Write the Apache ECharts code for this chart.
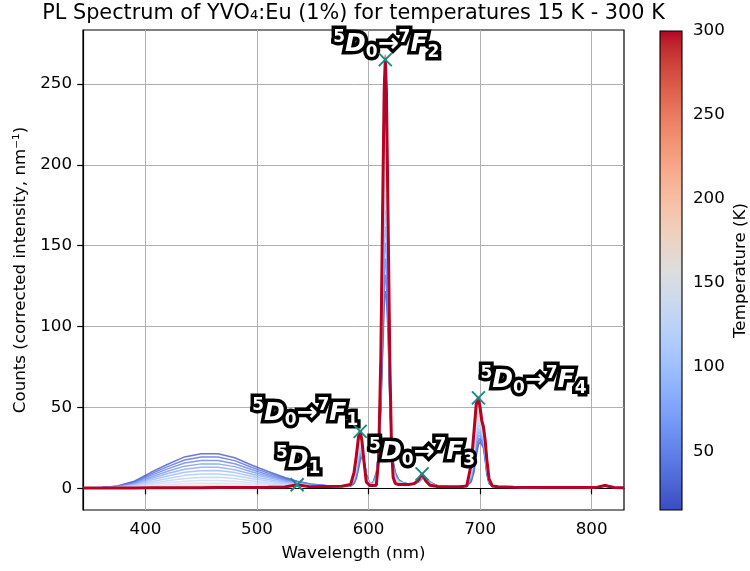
<!DOCTYPE html>
<html><head><meta charset="utf-8">
<script src="https://cdn.jsdelivr.net/npm/echarts@6/dist/echarts.min.js"></script>
<style>html,body{margin:0;padding:0;background:#fff}#c{width:750px;height:571px}</style>
</head><body><div id="c"></div>
<script>
// ---------------- data ----------------
const wavelengths = [344,360,375,390,405,420,435,450,465,480,495,510,525,536,548,562,576,
  584,587,589,591,592.5,594,596,598,601,604,
  607,609,611,612.5,614,615,616,617.5,619,620.5,622,624,627,631,636,
  641,645,648,651,655,662,
  672,682,688,692,694.5,696.5,698.5,700,701.5,703,704.5,706,708,711,716,
  730,760,790,805,812,820,829];

const temperatures = [15,30,45,60,75,90,105,120,135,150,165,180,195,210,225,240,255,270,285,300];

// one row per temperature, one value per wavelength
const counts = [
 [0.3,0.5,1.5,4.5,10,15,19.5,21.5,21.5,19,14.5,10.5,6.8,4.5,2.8,1.8,1.4, 1.5,3,6,12,17,20,17,9,3,3.5, 10,22,48,80,112,122,118,95,55,28,17,10,5.5,3.5,2.8, 3,4,6,7,4,1.5, 1,1.2,1.5,4,10,20,27,29,28,25,18,9,3,1.5,1, 0.8,0.6,0.6,0.8,1.5,0.6,0.5],
 [0.3,0.5,1.4,4.1,9.0,13.5,17.6,19.4,19.4,17.2,13.1,9.5,6.2,4.3,2.6,1.7,1.4, 1.6,3.5,7.0,13.4,18.3,20.7,16.9,8.7,2.9,3.4, 9.4,21.7,50.3,86.1,121.4,132,127,100,56.8,28,16.3,9.5,5.3,3.4,2.8, 3,4.1,6.2,6.9,3.9,1.5, 1,1.2,1.5,4.8,11.8,22.2,29.0,30.5,29.0,25.9,18.8,9.6,3.2,1.5,1, 0.8,0.6,0.6,0.8,1.5,0.6,0.5],
 [0.3,0.5,1.3,3.7,8.1,12.1,15.7,17.3,17.3,15.3,11.7,8.5,5.6,4.1,2.4,1.7,1.4, 1.6,4.0,8.0,14.8,19.6,21.4,16.9,8.3,2.8,3.3, 8.9,21.4,52.6,92.2,130.8,142,135.9,105.1,58.6,28,15.6,9.0,5.1,3.4,2.8, 3,4.2,6.4,6.7,3.7,1.5, 1,1.2,1.5,5.5,13.5,24.5,31.1,31.9,30.0,26.8,19.7,10.3,3.4,1.5,1, 0.8,0.6,0.6,0.8,1.5,0.6,0.5],
 [0.3,0.4,1.1,3.2,7.1,10.6,13.8,15.2,15.2,13.5,10.3,7.6,5.0,3.8,2.3,1.6,1.4, 1.7,4.5,8.9,16.2,20.8,22.1,16.8,8.0,2.7,3.1, 8.3,21.2,54.9,98.3,140.1,152,144.9,110.1,60.5,28,14.9,8.5,4.9,3.3,2.7, 3,4.3,6.6,6.6,3.6,1.4, 1,1.2,1.5,6.3,15.3,26.7,33.1,33.4,30.9,27.7,20.5,10.9,3.6,1.5,1, 0.8,0.6,0.6,0.8,1.6,0.6,0.5],
 [0.3,0.4,1.0,2.8,6.2,9.2,11.9,13.1,13.1,11.6,8.9,6.6,4.4,3.6,2.1,1.6,1.4, 1.8,5.0,9.9,17.6,22.1,22.8,16.7,7.6,2.7,3.0, 7.8,20.9,57.2,104.4,149.5,162,153.8,115.2,62.3,28,14.2,8.0,4.7,3.2,2.7, 3,4.4,6.8,6.4,3.4,1.4, 1,1.1,1.5,7.1,17.0,29.0,35.1,34.9,31.9,28.6,21.4,11.5,3.8,1.5,1, 0.8,0.6,0.6,0.8,1.6,0.6,0.5],
 [0.3,0.4,0.9,2.4,5.2,7.7,10.0,11.0,11.1,9.8,7.6,5.6,3.9,3.4,1.9,1.5,1.4, 1.9,5.5,10.9,19.0,23.4,23.5,16.7,7.3,2.6,2.9, 7.2,20.6,59.6,110.5,158.9,172,162.8,120.2,64.1,28,13.5,7.6,4.5,3.2,2.7, 3,4.5,7.1,6.3,3.3,1.4, 1,1.1,1.5,7.9,18.8,31.2,37.2,36.4,32.9,29.6,22.2,12.2,4.1,1.5,1, 0.8,0.6,0.6,0.8,1.6,0.6,0.5],
 [0.3,0.4,0.8,2.0,4.2,6.2,8.1,8.9,9.0,8.0,6.2,4.6,3.3,3.2,1.7,1.4,1.4, 1.9,5.9,11.9,20.4,24.7,24.2,16.6,6.9,2.5,2.8, 6.6,20.3,61.9,116.5,168.3,182,171.8,125.2,65.9,28,12.8,7.1,4.2,3.1,2.7, 3,4.6,7.3,6.2,3.2,1.4, 1,1.1,1.5,8.6,20.5,33.4,39.2,37.8,33.9,30.5,23.0,12.8,4.3,1.5,1, 0.8,0.6,0.6,0.8,1.6,0.6,0.5],
 [0.3,0.4,0.7,1.6,3.3,4.8,6.2,6.8,6.9,6.1,4.8,3.6,2.7,3.0,1.5,1.4,1.4, 2.0,6.4,12.9,21.8,26.0,24.9,16.5,6.6,2.4,2.7, 6.1,20.0,64.2,122.6,177.7,192,180.7,130.3,67.7,28,12.1,6.6,4.0,3.0,2.7, 3,4.7,7.5,6.0,3.0,1.4, 1,1.1,1.5,9.4,22.3,35.7,41.2,39.3,34.9,31.4,23.9,13.4,4.5,1.5,1, 0.8,0.6,0.6,0.8,1.6,0.6,0.5],
 [0.3,0.3,0.6,1.2,2.4,3.5,4.5,4.9,5.0,4.5,3.5,2.8,2.1,2.8,1.4,1.3,1.4, 2.1,6.9,13.8,23.2,27.2,25.6,16.4,6.2,2.3,2.5, 5.5,19.8,66.5,128.7,187.0,202,189.7,135.3,69.6,28,11.4,6.1,3.8,2.9,2.6, 3,4.8,7.7,5.9,2.9,1.3, 1,1.1,1.5,10.2,24.0,37.9,43.2,40.8,35.8,32.3,24.7,14.0,4.7,1.5,1, 0.8,0.6,0.6,0.8,1.7,0.6,0.5],
 [0.3,0.3,0.5,0.8,1.6,2.3,3.0,3.2,3.3,3.0,2.4,2.0,1.7,2.6,1.2,1.3,1.4, 2.1,7.4,14.8,24.6,28.5,26.3,16.4,5.9,2.2,2.4, 5.0,19.5,68.8,134.8,196.4,212,198.6,140.4,71.4,28,10.7,5.6,3.6,2.9,2.6, 3,4.9,7.9,5.7,2.7,1.3, 1,1.1,1.5,10.9,25.8,40.2,45.3,42.2,36.8,33.2,25.6,14.7,4.9,1.5,1, 0.8,0.6,0.6,0.8,1.7,0.6,0.5],
 [0.3,0.3,0.4,0.6,1.1,1.4,1.8,2.0,2.1,1.9,1.6,1.4,1.3,2.5,1.1,1.2,1.4, 2.2,7.9,15.8,26.0,29.8,27.0,16.3,5.5,2.2,2.3, 4.4,19.2,71.1,140.9,205.8,222,207.6,145.4,73.2,28,10.0,5.1,3.4,2.8,2.6, 3,5.1,8.1,5.6,2.6,1.3, 1,1.1,1.5,11.7,27.5,42.4,47.3,43.7,37.8,34.1,26.4,15.3,5.1,1.5,1, 0.8,0.6,0.6,0.8,1.7,0.6,0.5],
 [0.3,0.3,0.3,0.4,0.7,0.8,1.1,1.1,1.2,1.2,1.0,1.0,1.1,2.4,1.1,1.2,1.4, 2.3,8.3,16.6,27.2,30.9,27.6,16.2,5.2,2.1,2.2, 3.9,19.0,73.1,146.1,213.8,230.7,215.3,149.7,74.8,28,9.4,4.7,3.2,2.7,2.6, 3,5.1,8.3,5.5,2.5,1.3, 1,1.0,1.5,12.4,29.0,44.3,49.0,45.0,38.6,34.9,27.1,15.8,5.3,1.5,1, 0.8,0.6,0.6,0.8,1.7,0.6,0.5],
 [0.3,0.3,0.3,0.3,0.4,0.4,0.5,0.5,0.6,0.6,0.6,0.7,0.9,2.3,1.0,1.2,1.4, 2.3,8.7,17.5,28.4,32.0,28.2,16.2,4.9,2.0,2.1, 3.4,18.7,75.1,151.3,221.9,239.3,223.0,154.0,76.3,28,8.8,4.3,3.0,2.7,2.6, 3,5.2,8.5,5.4,2.4,1.3, 1,1.0,1.5,13.0,30.5,46.2,50.8,46.2,39.5,35.7,27.8,16.4,5.5,1.5,1, 0.8,0.6,0.6,0.8,1.8,0.6,0.5],
 [0.3,0.3,0.3,0.3,0.4,0.4,0.5,0.5,0.6,0.6,0.6,0.7,0.9,2.3,1.0,1.2,1.4, 2.4,9.2,18.3,29.6,33.1,28.8,16.1,4.6,1.9,2.0, 3.0,18.5,77.0,156.6,229.9,247.8,230.6,158.4,77.9,28,8.2,3.8,2.9,2.6,2.5, 3,5.3,8.6,5.2,2.2,1.2, 1,1.0,1.5,13.7,32.0,48.2,52.5,47.5,40.3,36.4,28.6,16.9,5.6,1.5,1, 0.8,0.6,0.6,0.8,2.0,0.6,0.5],
 [0.3,0.3,0.3,0.3,0.4,0.4,0.5,0.5,0.6,0.6,0.6,0.7,0.9,2.3,1.0,1.2,1.4, 2.4,9.5,19.0,30.6,34.0,29.3,16.1,4.4,1.9,1.9, 2.6,18.3,78.7,160.9,240,268,240,162.0,79.2,28,7.7,3.5,2.7,2.6,2.5, 3,5.4,8.8,5.1,2.1,1.2, 1,1.0,1.5,14.2,33.3,49.8,54.0,48.5,41.0,37.1,29.2,17.4,5.8,1.5,1, 0.8,0.6,0.6,0.8,2.2,0.6,0.5],
 [0.3,0.3,0.3,0.3,0.4,0.4,0.5,0.5,0.6,0.6,0.6,0.7,0.9,2.3,1.0,1.2,1.4, 2.5,9.8,19.6,31.4,34.8,29.7,16.0,4.2,1.8,1.8, 2.2,18.1,80.0,164.4,244,268,244,164.8,80.2,28,7.3,3.2,2.6,2.5,2.5, 3,5.5,8.9,5.1,2.1,1.2, 1,1.0,1.5,14.7,34.3,51.0,55.1,49.4,41.6,37.6,29.6,17.7,5.9,1.5,1, 0.8,0.6,0.6,0.8,2.2,0.6,0.5],
 [0.3,0.3,0.3,0.3,0.4,0.4,0.5,0.5,0.6,0.6,0.6,0.7,0.9,2.3,1.0,1.2,1.4, 2.5,10,20,32,35.3,30,16,4,1.8,1.8, 2,18,81,167,246,267,246,167,81,28,7,3,2.5,2.5,2.5, 3,5.5,9,5,2,1.2, 1,1,1.5,15,35,52,56,50,42,38,30,18,6,1.5,1, 0.8,0.6,0.6,0.8,2.1,0.6,0.5],
 [0.3,0.3,0.3,0.3,0.4,0.4,0.5,0.5,0.6,0.6,0.6,0.7,0.9,2.3,1.0,1.2,1.4, 2.5,10,20,32,35.3,30,16,4,1.8,1.8, 2,18,81,167,246,266,246,167,81,28,7,3,2.5,2.5,2.5, 3,5.5,9,5,2,1.2, 1,1,1.5,15,35,52,56,50,42,38,30,18,6,1.5,1, 0.8,0.6,0.6,0.8,2.0,0.6,0.5],
 [0.3,0.3,0.3,0.3,0.4,0.4,0.5,0.5,0.6,0.6,0.6,0.7,0.9,2.3,1.0,1.2,1.4, 2.5,10,20,32,35.3,30,16,4,1.8,1.8, 2,18,81,167,246,265.5,246,167,81,28,7,3,2.5,2.5,2.5, 3,5.5,9,5,2,1.2, 1,1,1.5,15,35,52,56,50,42,38,30,18,6,1.5,1, 0.8,0.6,0.6,0.8,1.9,0.6,0.5],
 [0.3,0.3,0.3,0.3,0.4,0.4,0.5,0.5,0.6,0.6,0.6,0.7,0.9,2.3,1.0,1.2,1.4, 2.5,10,20,32,35.3,30,16,4,1.8,1.8, 2,18,81,167,246,265,246,167,81,28,7,3,2.5,2.5,2.5, 3,5.5,9,5,2,1.2, 1,1,1.5,15,35,52,56,50,42,38,30,18,6,1.5,1, 0.8,0.6,0.6,0.8,1.8,0.6,0.5]
];

const peakWavelengths = [536, 592.5, 615, 648, 698.5];
const peakLabels = ['{sup|5}{big|D}{sub|1}',
                    '{sup|5}{big|D}{sub|0}{arr|→}{sup|7}{big|F}{sub|1}',
                    '{sup|5}{big|D}{sub|0}{arr|→}{sup|7}{big|F}{sub|2}',
                    '{sup|5}{big|D}{sub|0}{arr|→}{sup|7}{big|F}{sub|3}',
                    '{sup|5}{big|D}{sub|0}{arr|→}{sup|7}{big|F}{sub|4}'];
const xTicks = [400, 500, 600, 700, 800];
const yTicks = [0, 50, 100, 150, 200, 250];
const tempTicks = [50, 100, 150, 200, 250, 300];

// ---------------- styling ----------------
const labelOffsets = [[1,-24],[-55,-18],[1,-15],[0,-21],[55,-17]];
const coolwarm = [[59,76,192],[68,90,204],[77,104,215],[87,117,225],[98,130,234],[108,142,241],[119,154,247],[130,165,251],[141,176,254],[152,185,255],[163,194,255],[174,201,253],[184,208,249],[194,213,244],[204,217,238],[213,219,230],[221,221,221],[229,216,209],[236,211,197],[241,204,185],[245,196,173],[247,187,160],[247,177,148],[247,166,135],[244,154,123],[241,141,111],[236,127,99],[229,112,88],[222,96,77],[213,80,66],[203,62,56],[192,40,47],[180,4,38]];
function cmap(t) {
  t = Math.max(0, Math.min(1, t));
  const p = t * 32, i = Math.floor(p), f = p - i;
  const a = coolwarm[i], b = coolwarm[Math.min(i + 1, 32)];
  const c = a.map((v, k) => Math.round(v + (b[k] - v) * f));
  return 'rgb(' + c.join(',') + ')';
}
const tMin = temperatures[0], tMax = temperatures[temperatures.length - 1];
const FONT = 'DejaVu Sans';
const FS = 16.7;
const last = temperatures.length - 1;

const lineSeries = temperatures.map((T, k) => ({
  type: 'line', xAxisIndex: 0, yAxisIndex: 0,
  data: wavelengths.map((w, i) => [w, counts[k][i]]),
  showSymbol: false, symbol: 'none', silent: true, z: 2,
  lineStyle: { color: cmap((T - tMin) / (tMax - tMin)), width: k === last ? 3 : 1.5, opacity: k === last ? 1 : 0.75 }
}));

const lastRow = counts[last];
function makeRich(fill, border, bw) {
  const base = { fontWeight: 'bold', fontFamily: FONT, color: fill, textBorderColor: border, textBorderWidth: bw, opacity: 1 };
  return {
    big: Object.assign({}, base, { fontSize: 25, fontStyle: 'italic', lineHeight: 32, verticalAlign: 'middle' }),
    arr: Object.assign({}, base, { fontSize: 25, lineHeight: 32, verticalAlign: 'middle' }),
    sup: Object.assign({}, base, { fontSize: 17, lineHeight: 17, verticalAlign: 'top' }),
    sub: Object.assign({}, base, { fontSize: 17, lineHeight: 17, verticalAlign: 'bottom' })
  };
}
function labelPass(fill, border, bw, showMarker, z) {
  return {
    type: 'scatter', xAxisIndex: 0, yAxisIndex: 0, z: z, silent: true,
    symbol: 'path://M0,0L10,10M10,0L0,10', symbolSize: 13,
    itemStyle: { opacity: 1, color: 'transparent', borderColor: showMarker ? '#1a8c88' : 'transparent', borderWidth: showMarker ? 2 : 0 },
    data: peakWavelengths.map((w, j) => ({
      value: [w, lastRow[wavelengths.indexOf(w)]],
      label: { show: true, position: ['50%', '50%'], formatter: peakLabels[j], offset: labelOffsets[j],
        color: fill, textBorderColor: border, textBorderWidth: bw, opacity: 1,
        rich: makeRich(fill, border, bw), align: 'center', verticalAlign: 'middle' }
    }))
  };
}

const colorbarSeries = {
  type: 'custom', xAxisIndex: 1, yAxisIndex: 1, silent: true,
  data: [[0, tMin, tMax]],
  renderItem: function (params, api) {
    const p0 = api.coord([0, api.value(2)]);
    const p1 = api.coord([1, api.value(1)]);
    const stops = coolwarm.map((c, i) => ({ offset: i / 32, color: 'rgb(' + coolwarm[32 - i].join(',') + ')' }));
    return { type: 'rect', shape: { x: p0[0], y: p0[1], width: p1[0] - p0[0], height: p1[1] - p0[1] },
      style: { fill: new echarts.graphic.LinearGradient(0, 0, 0, 1, stops), stroke: '#000', lineWidth: 1.1 } };
  }
};

const axisCommon = {
  axisLine: { show: true, lineStyle: { color: '#000', width: 1.2 } },
  axisTick: { show: true, length: 5.8, lineStyle: { color: '#000', width: 1.2 } },
  axisLabel: { color: '#000', fontSize: FS, fontFamily: FONT, margin: 11 },
  nameTextStyle: { color: '#000', fontSize: FS, fontFamily: FONT },
  splitLine: { show: true, lineStyle: { color: '#b0b0b0', width: 1 } }
};

const chart = echarts.init(document.getElementById('c'), null, { renderer: 'canvas' });
chart.setOption({
  animation: false,
  backgroundColor: '#fff',
  graphic: [{ type: 'text', x: 353.5, y: 3, style: { text: 'PL Spectrum of YVO₄:Eu (1%) for temperatures 15 K - 300 K', font: '20.8px "DejaVu Sans"', fill: '#000', align: 'center', verticalAlign: 'top' } }],
  grid: [
    { left: 83, right: 126, top: 30, bottom: 61, show: true, borderColor: '#000', borderWidth: 1.2, backgroundColor: 'transparent' },
    { left: 660, width: 23, top: 31, bottom: 61, show: false }
  ],
  xAxis: [
    Object.assign({}, axisCommon, { type: 'value', gridIndex: 0, min: 344, max: 829,
      name: 'Wavelength (nm)', nameLocation: 'middle', nameGap: 35,
      axisTick: Object.assign({}, axisCommon.axisTick, { customValues: xTicks }),
      axisLabel: Object.assign({}, axisCommon.axisLabel, { customValues: xTicks }) }),
    { type: 'value', gridIndex: 1, min: 0, max: 1, show: false }
  ],
  yAxis: [
    Object.assign({}, axisCommon, { type: 'value', gridIndex: 0, min: -13.3, max: 283.3,
      name: 'Counts (corrected intensity, nm⁻¹)', nameLocation: 'middle', nameGap: 50,
      axisTick: Object.assign({}, axisCommon.axisTick, { customValues: yTicks }),
      axisLabel: Object.assign({}, axisCommon.axisLabel, { customValues: yTicks }) }),
    Object.assign({}, axisCommon, { type: 'value', gridIndex: 1, min: tMin, max: tMax, position: 'right',
      name: 'Temperature (K)', nameLocation: 'middle', nameGap: 50, nameRotate: 90,
      axisLine: { show: false },
      splitLine: { show: false },
      axisTick: Object.assign({}, axisCommon.axisTick, { customValues: tempTicks }),
      axisLabel: Object.assign({}, axisCommon.axisLabel, { customValues: tempTicks }) })
  ],
  series: lineSeries.concat([labelPass('#000', '#000', 7, false, 9), labelPass('#fff', '#fff', 0, true, 10), colorbarSeries])
});
</script>
</body></html>
